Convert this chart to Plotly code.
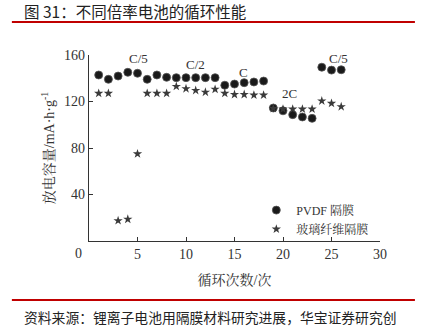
import plotly.graph_objects as go

cycles = list(range(1, 27))
pvdf = [142.8, 139.1, 141.9, 145.1, 144.3, 139.1, 142.8, 140.8, 140.5, 140.5,
        140.5, 140.5, 140.5, 134.0, 135.0, 136.2, 136.8, 137.6, 114.4, 112.0,
        108.7, 106.7, 105.5, 149.5, 147.0, 147.3]
glass = [127.0, 127.0, 17.5, 18.7, 75.0, 127.0, 127.0, 127.0, 133.0, 131.0,
         129.5, 128.0, 130.5, 127.0, 126.0, 126.0, 125.5, 125.5, 114.0, 113.5,
         113.5, 113.5, 113.5, 120.5, 118.4, 115.5]
rate_labels = ["C/5", "C/2", "C", "2C", "C/5"]
rate_x = [5.1, 11.0, 15.9, 20.7, 25.7]
rate_y = [157.0, 152.0, 145.0, 127.0, 157.0]
xticks = [5, 10, 15, 20, 25, 30]
yticks = [40, 80, 120, 160]

SERIF = "Liberation Serif, Noto Serif CJK SC, Noto Sans CJK SC, serif"
CJK = "Noto Sans CJK SC, sans-serif"

fig = go.Figure()
fig.add_trace(go.Scatter(
    x=cycles, y=pvdf, mode="markers", name="PVDF 隔膜",
    marker=dict(symbol="circle", size=8, color="#1a1a1a",
                line=dict(color="#555555", width=0.8)),
    cliponaxis=False))
fig.add_trace(go.Scatter(
    x=cycles, y=glass, mode="markers", name="玻璃纤维隔膜",
    marker=dict(symbol="star", size=7, color="#3a3a3a", line=dict(width=0)),
    cliponaxis=False))

for t, xv, yv in zip(rate_labels, rate_x, rate_y):
    fig.add_annotation(x=xv, y=yv, text=t, showarrow=False,
                       font=dict(family=SERIF, size=13, color="#333"))

fig.add_annotation(x=0, y=0, text="0", showarrow=False, xshift=-11, yshift=-12,
                   font=dict(family=SERIF, size=14, color="#333"))

# title and source
fig.add_annotation(xref="paper", yref="paper", x=-0.23, y=1.235, xanchor="left",
                   yanchor="middle", text="图 31：不同倍率电池的循环性能",
                   showarrow=False, font=dict(family=CJK, size=15.5, color="#222"))
fig.add_annotation(xref="paper", yref="paper", x=-0.23, y=-0.41, xanchor="left",
                   yanchor="middle",
                   text="资料来源：锂离子电池用隔膜材料研究进展，华宝证券研究创",
                   showarrow=False, font=dict(family=CJK, size=13.8, color="#222"))
fig.add_shape(type="line", xref="paper", yref="paper", x0=-0.265, x1=1.12,
              y0=1.177, y1=1.177, line=dict(color="#c00000", width=2))
fig.add_shape(type="line", xref="paper", yref="paper", x0=-0.265, x1=1.12,
              y0=-0.317, y1=-0.317, line=dict(color="#c00000", width=2))

fig.update_layout(
    width=422, height=332,
    margin=dict(l=89, r=42, t=55, b=91),
    paper_bgcolor="white", plot_bgcolor="white",
    showlegend=True,
    legend=dict(x=0.575, y=0.115, xanchor="left", yanchor="middle",
                bgcolor="rgba(0,0,0,0)", itemwidth=30, tracegroupgap=0,
                font=dict(family=SERIF, size=12, color="#333")),
    font=dict(family=SERIF, color="#333"),
)
fig.update_xaxes(range=[0, 30], tickvals=xticks, ticks="inside", ticklen=4,
                 showline=True, linecolor="#333", linewidth=1.2, showgrid=False,
                 zeroline=False, tickcolor="#333",
                 tickfont=dict(family=SERIF, size=14, color="#333"),
                 title=dict(text="循环次数/次", standoff=14,
                            font=dict(family=SERIF, size=14, color="#333")))
fig.update_yaxes(range=[0, 160], tickvals=yticks, ticks="inside", ticklen=4,
                 showline=True, linecolor="#333", linewidth=1.2, showgrid=False,
                 zeroline=False, tickcolor="#333",
                 tickfont=dict(family=SERIF, size=14, color="#333"),
                 title=dict(text="放电容量/mA·h·g<sup>-1</sup>", standoff=6,
                            font=dict(family=SERIF, size=14, color="#333")))

fig.write_html("out.html")
